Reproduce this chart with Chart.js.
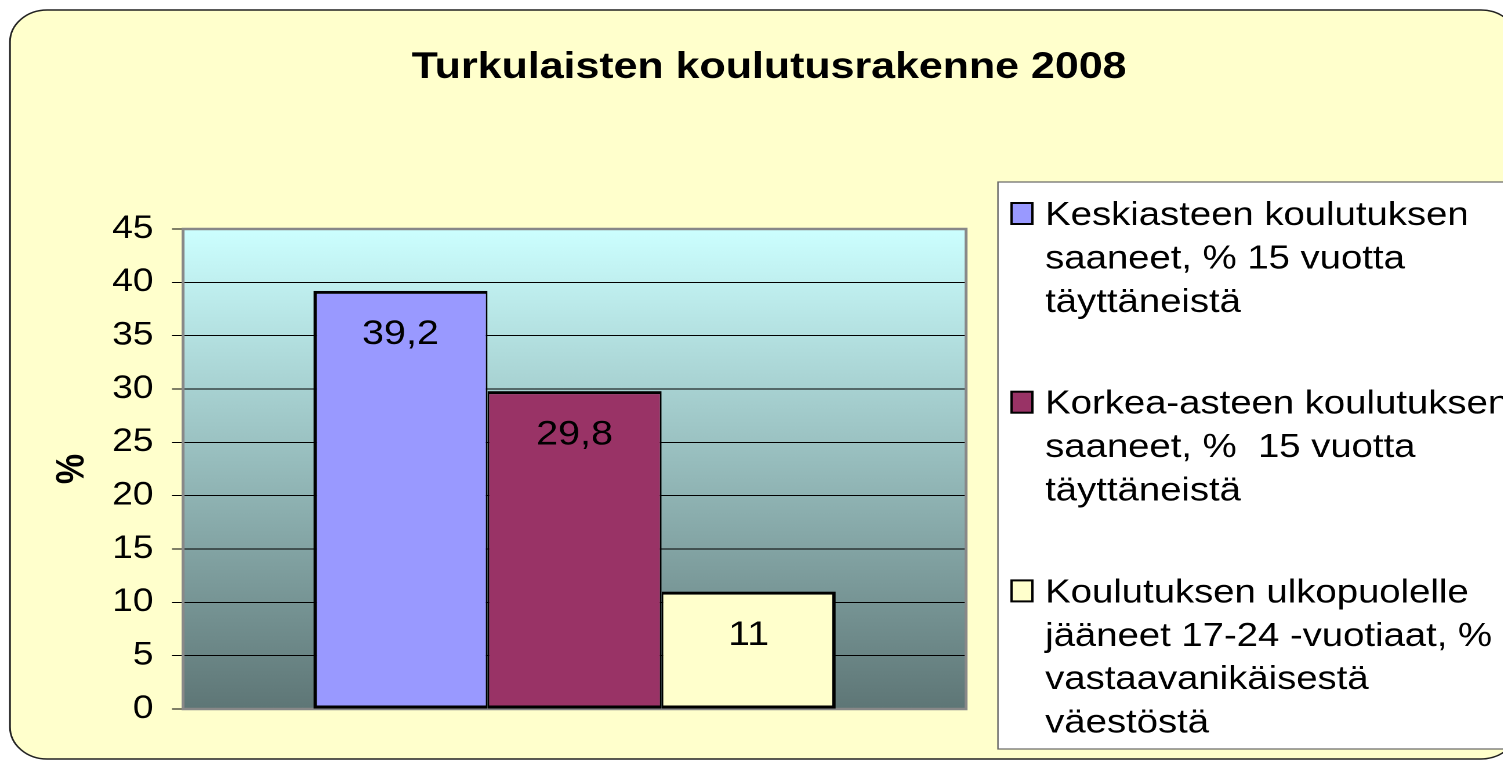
<!DOCTYPE html>
<html lang="fi">
<head>
<meta charset="utf-8">
<title>Turkulaisten koulutusrakenne 2008</title>
<script src="https://cdn.jsdelivr.net/npm/chart.js@4"></script>
<style>
  html, body { margin: 0; padding: 0; background: #fff; overflow: hidden; }
  /* the original picture is stretched sideways, so the whole chart is too */
  #caja { position: absolute; left: 0; top: 0; width: 1296px; height: 761px; transform: scaleX(1.16); transform-origin: 0 0; }
</style>
</head>
<body>
<div id="caja"><canvas id="grafico"></canvas></div>
<script>
const titulo = "Turkulaisten koulutusrakenne 2008";
const categorias = [""];
const etiquetasSeries = [
  ["Keskiasteen koulutuksen", "saaneet, % 15 vuotta", "täyttäneistä"],
  ["Korkea-asteen koulutuksen", "saaneet, %  15 vuotta", "täyttäneistä"],
  ["Koulutuksen ulkopuolelle", "jääneet 17-24 -vuotiaat, %", "vastaavanikäisestä", "väestöstä"],
];
const valores = [39.2, 29.8, 11];
const colores = ["#9999FF", "#993366", "#FFFFCC"];
const ejeMin = 0;
const ejeMax = 45;
const ejePaso = 5;
const tituloEje = "%";

const fuente = "Arial, 'Liberation Sans', sans-serif";

const fondo = {
  id: "fondo",
  beforeDraw(chart) {
    const { ctx, chartArea: a } = chart;
    ctx.save();
    // yellow rounded panel
    ctx.beginPath();
    ctx.roundRect(8.6, 10, 1300, 749, 32);
    ctx.fillStyle = "#FFFFCC";
    ctx.fill();
    ctx.strokeStyle = "#222";
    ctx.lineWidth = 1.5;
    ctx.stroke();
    // plot area gradient
    const grad = ctx.createLinearGradient(0, a.top, 0, a.bottom);
    grad.addColorStop(0, "#CCFFFF");
    grad.addColorStop(1, "#5E7676");
    ctx.fillStyle = grad;
    ctx.fillRect(a.left, a.top, a.width, a.height);
    ctx.restore();
  },
  beforeDatasetsDraw(chart) {
    const { ctx, chartArea: a } = chart;
    ctx.save();
    ctx.strokeStyle = "#888";
    ctx.lineWidth = 2.5;
    ctx.strokeRect(a.left, a.top, a.width, a.height);
    ctx.restore();
  },
  afterDatasetsDraw(chart) {
    const { ctx } = chart;
    ctx.save();
    // value labels inside the bars
    ctx.fillStyle = "#000";
    ctx.font = "34px " + fuente;
    ctx.textAlign = "center";
    ctx.textBaseline = "middle";
    chart.data.datasets.forEach((ds, i) => {
      const bar = chart.getDatasetMeta(i).data[0];
      ctx.fillText(String(ds.data[0]).replace(".", ","), bar.x, bar.y + 44);
    });

    // title
    ctx.font = "bold 37px " + fuente;
    ctx.fillText(titulo, 663, 68);

    // legend box
    ctx.fillStyle = "#fff";
    ctx.fillRect(860.3, 182, 460, 567);
    ctx.strokeStyle = "#666";
    ctx.lineWidth = 1.2;
    ctx.strokeRect(860.3, 182, 460, 567);

    ctx.textAlign = "left";
    ctx.textBaseline = "alphabetic";
    ctx.font = "33px " + fuente;
    let base = 225;
    chart.data.datasets.forEach((ds) => {
      ctx.fillStyle = ds.backgroundColor;
      ctx.fillRect(872, base - 22, 18, 21);
      ctx.strokeStyle = "#000";
      ctx.lineWidth = 2;
      ctx.strokeRect(872, base - 22, 18, 21);
      ctx.fillStyle = "#000";
      ds.lineas.forEach((t, k) => {
        ctx.fillText(t, 901, base + k * 43.4);
      });
      base += ds.lineas.length * 43.4 + 58.5;
    });
    ctx.restore();
  },
};

const ctx = document.getElementById("grafico").getContext("2d");

// neighbouring bars share one edge line
const bordes = (i) => ({
  top: 3,
  bottom: 3,
  left: i === 0 ? 3 : 1.5,
  right: i === valores.length - 1 ? 3 : 1.5,
});

const myChart = new Chart(ctx, {
  type: "bar",
  data: {
    labels: categorias,
    datasets: valores.map((v, i) => ({
      label: etiquetasSeries[i].join(" "),
      lineas: etiquetasSeries[i],
      data: [v],
      backgroundColor: colores[i],
      borderColor: "#000",
      borderWidth: bordes(i),
      borderSkipped: false,
      barPercentage: 1,
      categoryPercentage: 0.667,
    })),
  },
  options: {
    responsive: true,
    maintainAspectRatio: false,
    animation: false,
    devicePixelRatio: 2,
    layout: {
      padding: { top: 229, right: 463.2, bottom: 52, left: 0 },
    },
    plugins: {
      legend: { display: false },
      tooltip: { enabled: false },
      title: { display: false },
    },
    scales: {
      x: { display: false },
      y: {
        min: ejeMin,
        max: ejeMax,
        ticks: {
          stepSize: ejePaso,
          color: "#000",
          padding: 16,
          font: { family: fuente, size: 32 },
        },
        grid: {
          color: "#000",
          lineWidth: 1,
          tickLength: 9.5,
          tickColor: "#000",
        },
        border: { display: false },
        title: {
          display: true,
          text: tituloEje,
          color: "#000",
          padding: { top: 42 },
          font: { family: fuente, size: 34, weight: "bold" },
        },
        afterFit(scale) {
          scale.width = 157.8;
        },
      },
    },
  },
  plugins: [fondo],
});
</script>
</body>
</html>
